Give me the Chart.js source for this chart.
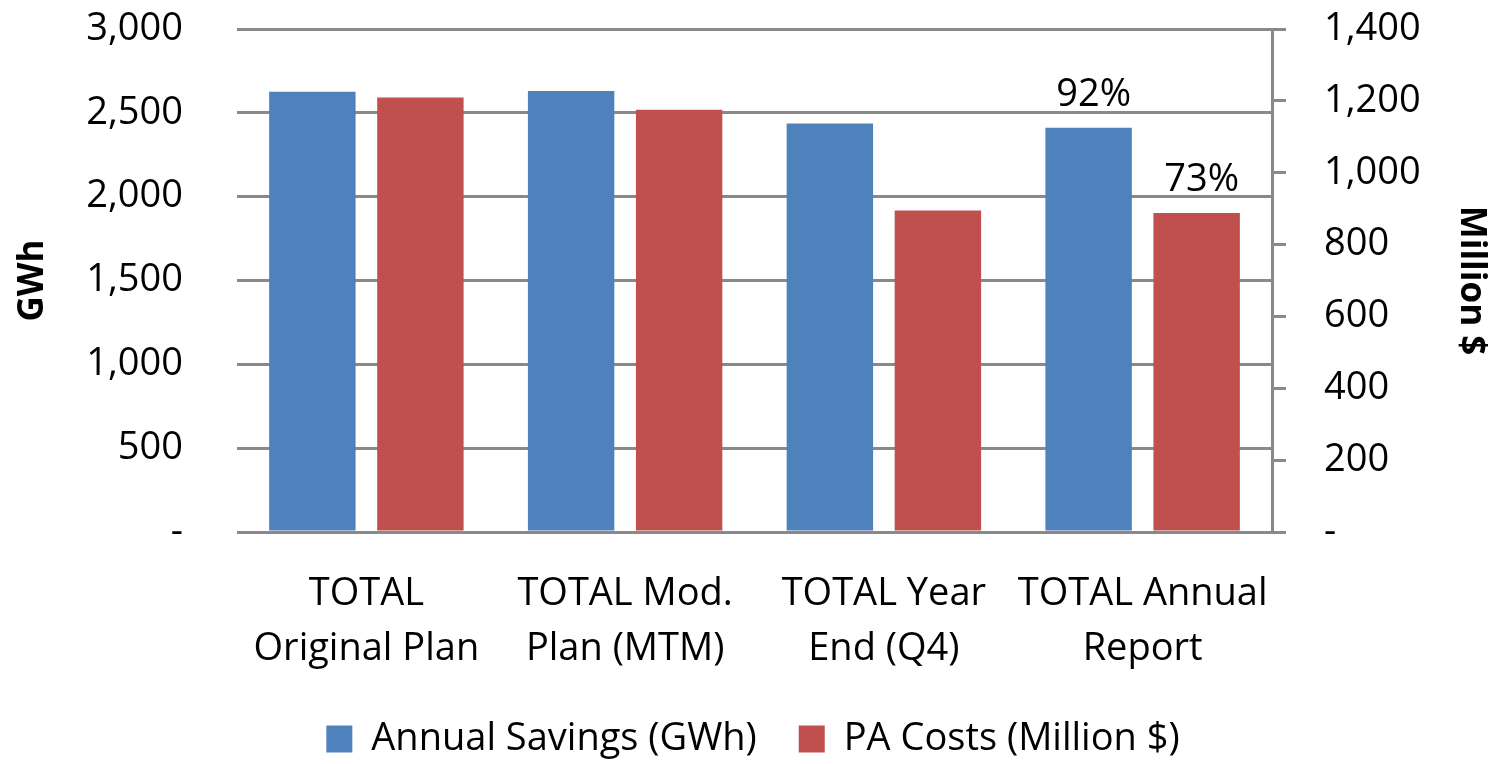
<!DOCTYPE html>
<html>
<head>
<meta charset="utf-8">
<script src="https://cdn.jsdelivr.net/npm/chart.js@4/dist/chart.umd.min.js"></script>
<style>
  html, body { margin: 0; padding: 0; background: #fff; }
  #wrap { width: 1506px; height: 764px; }
</style>
</head>
<body>
<div id="wrap"><canvas id="grafico" width="1506" height="764"></canvas></div>
<script>
// categorias e séries
const categorias = [
  ["TOTAL", "Original Plan"],
  ["TOTAL Mod.", "Plan (MTM)"],
  ["TOTAL Year", "End (Q4)"],
  ["TOTAL Annual", "Report"]
];
const economiaGWh = [2626, 2630, 2437, 2411];
const custosMilhoes = [1209, 1175, 895, 888];
const rotulosEconomia = ["", "", "", "92%"];
const rotulosCustos = ["", "", "", "73%"];

const fonte = "'Open Sans', 'Liberation Sans', sans-serif";
const cinza = "#898989";
const tam = 38;

function formatarTick(v) {
  return v === 0 ? "-" : v.toLocaleString("en-US");
}

// plugin simples para os rótulos de porcentagem
const rotulosPlugin = {
  id: "rotulos",
  afterDatasetsDraw(chart) {
    const ctx = chart.ctx;
    ctx.save();
    ctx.font = tam + "px " + fonte;
    ctx.fillStyle = "#000";
    ctx.textAlign = "center";
    ctx.textBaseline = "alphabetic";
    chart.data.datasets.forEach((ds, i) => {
      const meta = chart.getDatasetMeta(i);
      meta.data.forEach((bar, j) => {
        const txt = ds.rotulos[j];
        if (txt) ctx.fillText(txt, bar.x + 5, bar.y - 22);
      });
    });
    ctx.restore();
  }
};

const ctx = document.getElementById("grafico").getContext("2d");
new Chart(ctx, {
  type: "bar",
  data: {
    labels: categorias,
    datasets: [
      {
        label: "Annual Savings (GWh)",
        data: economiaGWh,
        rotulos: rotulosEconomia,
        backgroundColor: "#4F81BD",
        yAxisID: "y"
      },
      {
        label: "PA Costs (Million $)",
        data: custosMilhoes,
        rotulos: rotulosCustos,
        backgroundColor: "#C0504D",
        yAxisID: "y2"
      }
    ]
  },
  options: {
    responsive: false,
    animation: false,
    layout: { padding: { top: 29, left: 0, right: 0, bottom: -4 } },
    datasets: { bar: { categoryPercentage: 0.835, barPercentage: 0.8 } },
    scales: {
      x: {
        grid: { display: false, drawTicks: false },
        border: { display: false },
        ticks: {
          color: "#000",
          font: { family: fonte, size: tam, lineHeight: 1.45 },
          padding: 35,
          maxRotation: 0
        },
        afterFit: s => { s.height = 146; }
      },
      y: {
        position: "left",
        min: 0,
        max: 3000,
        grid: { color: cinza, lineWidth: 3, tickLength: 50, tickColor: "rgba(0,0,0,0)" },
        border: { display: false },
        ticks: {
          stepSize: 500,
          color: "#000",
          font: { family: fonte, size: tam },
          padding: 4,
          callback: formatarTick
        },
        title: {
          display: true,
          text: "GWh",
          color: "#000",
          font: { family: fonte, size: 35, weight: "bold" },
          padding: { top: 12, bottom: 0 }
        },
        afterFit: s => {
          s.width = 237;
          s.paddingTop = 0;
          s.paddingBottom = 0;
        }
      },
      y2: {
        position: "right",
        min: 0,
        max: 1400,
        grid: { drawOnChartArea: false, color: cinza, lineWidth: 3, tickLength: 14 },
        border: { display: true, color: cinza, width: 3 },
        ticks: {
          stepSize: 200,
          color: "#000",
          font: { family: fonte, size: tam },
          padding: 38,
          callback: formatarTick
        },
        title: {
          display: true,
          text: "Million $",
          color: "#000",
          font: { family: fonte, size: 35, weight: "bold" },
          padding: { top: 14, bottom: 0 }
        },
        afterFit: s => {
          s.width = 234;
          s.paddingTop = 0;
          s.paddingBottom = 0;
        }
      }
    },
    plugins: {
      legend: {
        position: "bottom",
        labels: {
          color: "#000",
          font: { family: fonte, size: tam },
          boxWidth: 26,
          boxHeight: 27,
          padding: 42
        }
      },
      tooltip: { enabled: false }
    }
  },
  plugins: [rotulosPlugin]
});
</script>
</body>
</html>
